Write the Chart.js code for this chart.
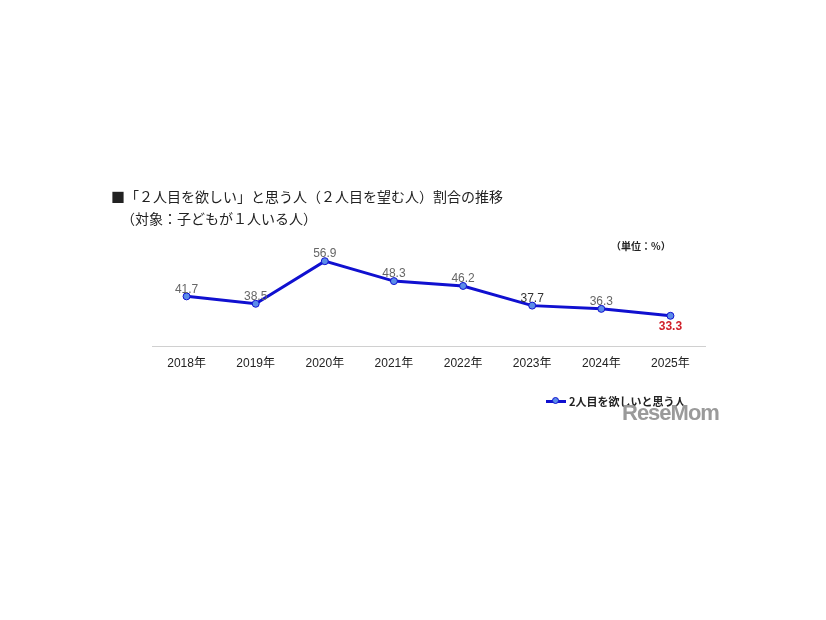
<!DOCTYPE html>
<html>
<head>
<meta charset="utf-8">
<script src="https://cdn.jsdelivr.net/npm/chart.js@4"></script>
<style>
  body { margin: 0; background: #fff; font-family: "Noto Sans CJK JP", sans-serif; }
  #wrap { position: relative; width: 826px; height: 620px; }
  canvas { position: absolute; left: 0; top: 0; }
  .t { position: absolute; color: #222; white-space: nowrap; }
</style>
</head>
<body>
<div id="wrap">
  <canvas id="c" width="826" height="620"></canvas>
  <div class="t" style="left:111px;top:186px;font-size:14px;">■「２人目を欲しい」と思う人（２人目を望む人）割合の推移</div>
  <div class="t" style="left:121px;top:208px;font-size:14px;">（対象：子どもが１人いる人）</div>
  <div class="t" style="left:611px;top:238px;font-size:10px;font-weight:bold;">（単位：%）</div>
  <div class="t" style="left:546px;top:393px;font-size:11px;font-weight:bold;display:flex;align-items:center;">
    <span style="display:inline-block;width:20px;height:3px;background:#1010d0;position:relative;margin-right:3px;">
      <span style="position:absolute;left:6px;top:-3px;width:7px;height:7px;border-radius:50%;background:#5b8ce8;border:1px solid #1010d0;box-sizing:border-box;"></span>
    </span>2人目を欲しいと思う人
  </div>
  <div class="t" style="left:622px;top:400px;font-size:22px;font-weight:bold;color:#9a9a9a;font-family:'Liberation Sans Narrow','Liberation Sans',sans-serif;letter-spacing:-1px;">ReseMom</div>
</div>
<script>
const years = ["2018年", "2019年", "2020年", "2021年", "2022年", "2023年", "2024年", "2025年"];
const wantSecond = [41.7, 38.5, 56.9, 48.3, 46.2, 37.7, 36.3, 33.3];
const seriesLabel = "2人目を欲しいと思う人";

const labelPlugin = {
  id: "valueLabels",
  afterDatasetsDraw(chart) {
    const ctx = chart.ctx;
    const meta = chart.getDatasetMeta(0);
    ctx.save();
    ctx.textAlign = "center";
    meta.data.forEach((pt, i) => {
      const last = i === wantSecond.length - 1;
      if (last) {
        ctx.font = "bold 12px 'Liberation Sans', sans-serif";
        ctx.fillStyle = "#d0202a";
        ctx.textBaseline = "top";
        ctx.fillText(wantSecond[i].toFixed(1), pt.x, pt.y + 5);
      } else {
        ctx.font = "12px 'Liberation Sans', sans-serif";
        ctx.fillStyle = i === 5 ? "#333" : "#666";
        ctx.textBaseline = "bottom";
        ctx.fillText(wantSecond[i].toFixed(1), pt.x, pt.y - 1);
      }
    });
    ctx.restore();
  }
};

new Chart(document.getElementById("c"), {
  type: "line",
  data: {
    labels: years,
    datasets: [{
      label: seriesLabel,
      data: wantSecond,
      borderColor: "#1010d0",
      borderWidth: 3,
      backgroundColor: "#5b8ce8",
      pointBackgroundColor: "#5b8ce8",
      pointBorderColor: "#1010d0",
      pointBorderWidth: 1,
      pointRadius: 3.5,
      tension: 0
    }]
  },
  options: {
    responsive: false,
    animation: false,
    layout: { padding: { left: 152, right: 121, top: 254, bottom: 239 } },
    plugins: { legend: { display: false }, tooltip: { enabled: false } },
    scales: {
      x: {
        offset: true,
        grid: { display: false, drawTicks: false },
        border: { color: "#d0d0d0", width: 1 },
        ticks: { color: "#222", font: { size: 12, family: "'Liberation Sans', 'Noto Sans CJK JP', sans-serif" }, padding: 10 }
      },
      y: { display: false, min: 20, max: 60 }
    }
  },
  plugins: [labelPlugin]
});
</script>
</body>
</html>
